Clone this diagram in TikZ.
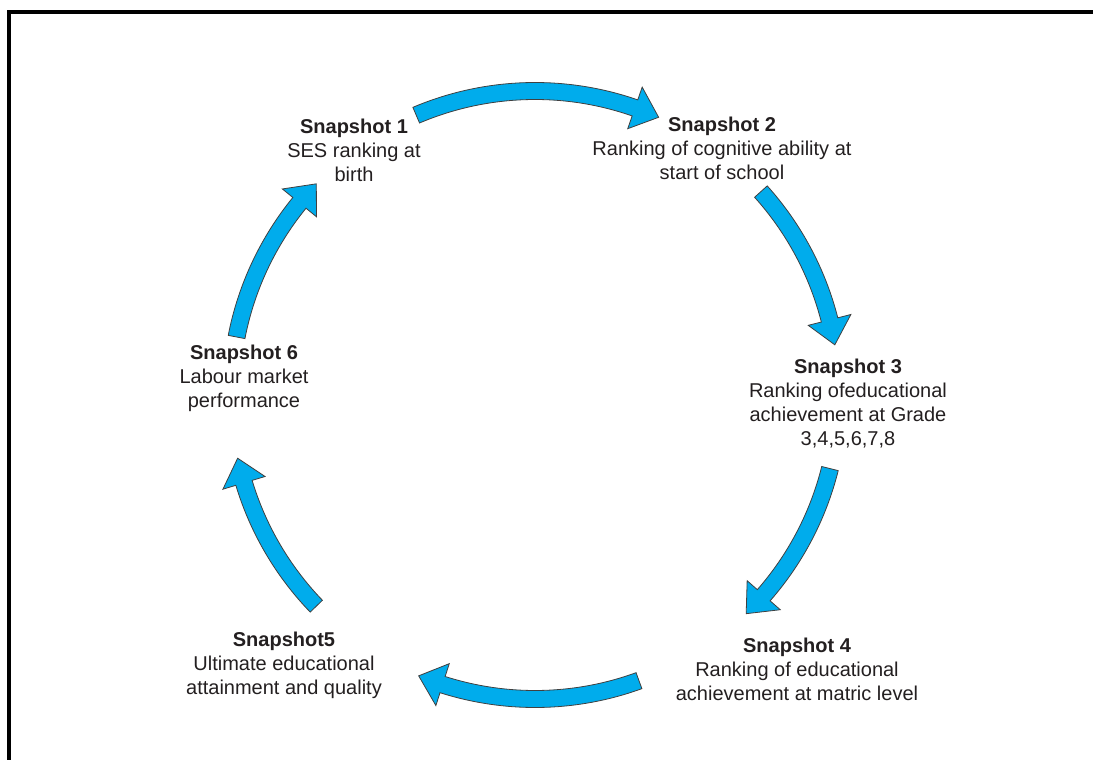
\documentclass[tikz,border=0pt]{standalone}
\usepackage{fontspec}
\setmainfont{Liberation Sans}
\usetikzlibrary{calc}

\definecolor{cycleblue}{RGB}{0,172,236}
\definecolor{labelgrey}{RGB}{35,31,32}

% ring geometry (pt): centre line, shaft edges, head overhang, head length as angle
\def\rmid{304}
\def\rin{295.5}
\def\rout{312.5}
\def\headw{13.5}
\def\headang{4.8}

% block arrow running clockwise round the ring, from angle #1 to angle #2
\newcommand{\ringarrow}[2]{%
  \filldraw[ringarrowstyle] (#1:\rin) arc[start angle=#1, end angle={#2+\headang}, radius=\rin]
    -- ({#2+\headang}:{\rin-\headw}) -- (#2:\rmid) -- ({#2+\headang}:{\rout+\headw})
    -- ({#2+\headang}:\rout) arc[start angle={#2+\headang}, end angle=#1, radius=\rout] -- cycle;}

\begin{document}
\begin{tikzpicture}[x=1pt, y=1pt,
    ringarrowstyle/.style={fill=cycleblue, draw=black!75, line width=0.8pt, line join=miter},
    snaplabel/.style={align=center, font=\fontsize{20}{24}\selectfont, text=labelgrey, inner sep=0pt}]
  \useasboundingbox (-535,-365) rectangle (558,395);
  \coordinate (ctr) at (0,0);

  % frame (runs off the right and bottom edge)
  \draw[line width=3.2pt] (-526,-380) -- (-526,383) -- (580,383);

  % snapshots
  \node[snaplabel] (snap1) at (-181,245) {\textbf{Snapshot 1}\\SES ranking at\\birth};
  \node[snaplabel] (snap2) at (187,247) {\textbf{Snapshot 2}\\Ranking of cognitive ability at\\start of school};
  \node[snaplabel] (snap3) at (313,-9) {\textbf{Snapshot 3}\\Ranking ofeducational\\achievement at Grade\\3,4,5,6,7,8};
  \node[snaplabel] (snap4) at (262,-274) {\textbf{Snapshot 4}\\Ranking of educational\\achievement at matric level};
  \node[snaplabel] (snap5) at (-251,-270) {\textbf{Snapshot5}\\Ultimate educational\\attainment and quality};
  \node[snaplabel] (snap6) at (-291,17) {\textbf{Snapshot 6}\\Labour market\\performance};

  % arrows round the cycle
  \ringarrow{113}{66}
  \ringarrow{42}{9.5}
  \ringarrow{-14}{-46}
  \ringarrow{-70}{-112.5}
  \ringarrow{-136}{-168}
  \ringarrow{169}{136}
\end{tikzpicture}
\end{document}
